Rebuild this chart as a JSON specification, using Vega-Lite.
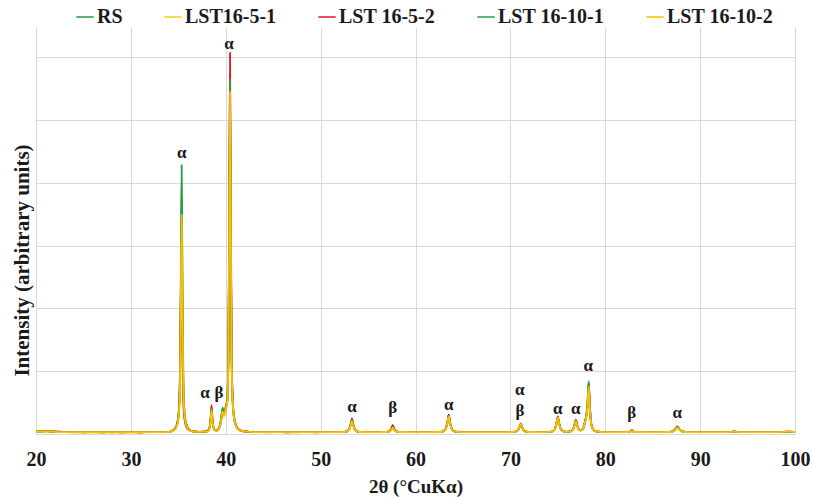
{
  "$schema": "https://vega.github.io/schema/vega-lite/v6.json",
  "width": 759,
  "height": 407,
  "autosize": {"type": "none"},
  "padding": {"left": 36, "top": 27, "right": 18, "bottom": 63},
  "background": "white",
  "config": {
    "view": {"stroke": null},
    "axis": {
      "labelFont": "'Liberation Serif', 'Times New Roman', serif",
      "labelFontWeight": "bold",
      "labelFontSize": 20,
      "labelColor": "#1a1a1a",
      "labelFlush": false,
      "titleFont": "'Liberation Serif', 'Times New Roman', serif",
      "titleFontWeight": "bold",
      "titleFontSize": 19,
      "titleColor": "#1a1a1a",
      "gridColor": "#d9d9d9",
      "gridWidth": 1,
      "domainColor": "#d9d9d9",
      "ticks": false
    }
  },
  "layer": [
    {
      "data": {
        "values": [
          {"x":20,"RS":0.05,"LST16-5-1":0.045,"LST 16-5-2":0.04,"LST 16-10-1":0.05,"LST 16-10-2":0.045},
          {"x":20.5,"RS":0.04,"LST16-5-1":0.05,"LST 16-5-2":0.045,"LST 16-10-1":0.04,"LST 16-10-2":0.04},
          {"x":21,"RS":0.045,"LST16-5-1":0.04,"LST 16-5-2":0.05,"LST 16-10-1":0.045,"LST 16-10-2":0.04},
          {"x":21.5,"RS":0.04,"LST16-5-1":0.045,"LST 16-5-2":0.04,"LST 16-10-1":0.05,"LST 16-10-2":0.04},
          {"x":22,"RS":0.035,"LST16-5-1":0.035,"LST 16-5-2":0.04,"LST 16-10-1":0.035,"LST 16-10-2":0.035},
          {"x":23,"RS":0.03,"LST16-5-1":0.03,"LST 16-5-2":0.032,"LST 16-10-1":0.03,"LST 16-10-2":0.03},
          {"x":24,"RS":0.03,"LST16-5-1":0.028,"LST 16-5-2":0.03,"LST 16-10-1":0.03,"LST 16-10-2":0.028},
          {"x":25,"RS":0.028,"LST16-5-1":0.03,"LST 16-5-2":0.03,"LST 16-10-1":0.028,"LST 16-10-2":0.028},
          {"x":26,"RS":0.03,"LST16-5-1":0.028,"LST 16-5-2":0.03,"LST 16-10-1":0.032,"LST 16-10-2":0.028},
          {"x":27,"RS":0.028,"LST16-5-1":0.028,"LST 16-5-2":0.03,"LST 16-10-1":0.028,"LST 16-10-2":0.028},
          {"x":28,"RS":0.03,"LST16-5-1":0.03,"LST 16-5-2":0.028,"LST 16-10-1":0.03,"LST 16-10-2":0.028},
          {"x":29,"RS":0.028,"LST16-5-1":0.028,"LST 16-5-2":0.03,"LST 16-10-1":0.028,"LST 16-10-2":0.028},
          {"x":30,"RS":0.03,"LST16-5-1":0.028,"LST 16-5-2":0.03,"LST 16-10-1":0.03,"LST 16-10-2":0.028},
          {"x":31,"RS":0.028,"LST16-5-1":0.03,"LST 16-5-2":0.028,"LST 16-10-1":0.028,"LST 16-10-2":0.028},
          {"x":32,"RS":0.03,"LST16-5-1":0.03,"LST 16-5-2":0.03,"LST 16-10-1":0.03,"LST 16-10-2":0.03},
          {"x":33,"RS":0.03,"LST16-5-1":0.03,"LST 16-5-2":0.032,"LST 16-10-1":0.03,"LST 16-10-2":0.03},
          {"x":34,"RS":0.035,"LST16-5-1":0.033,"LST 16-5-2":0.035,"LST 16-10-1":0.035,"LST 16-10-2":0.033},
          {"x":34.55,"RS":0.07,"LST16-5-1":0.06,"LST 16-5-2":0.07,"LST 16-10-1":0.07,"LST 16-10-2":0.06},
          {"x":34.85,"RS":0.16,"LST16-5-1":0.13,"LST 16-5-2":0.14,"LST 16-10-1":0.14,"LST 16-10-2":0.13},
          {"x":35.05,"RS":0.37,"LST16-5-1":0.28,"LST 16-5-2":0.35,"LST 16-10-1":0.33,"LST 16-10-2":0.31},
          {"x":35.17,"RS":0.88,"LST16-5-1":0.66,"LST 16-5-2":0.95,"LST 16-10-1":0.78,"LST 16-10-2":0.72},
          {"x":35.26,"RS":2.37,"LST16-5-1":1.77,"LST 16-5-2":2.2,"LST 16-10-1":2.1,"LST 16-10-2":1.93},
          {"x":35.35,"RS":4.28,"LST16-5-1":3.2,"LST 16-5-2":3.0,"LST 16-10-1":3.8,"LST 16-10-2":3.49},
          {"x":35.44,"RS":2.37,"LST16-5-1":1.77,"LST 16-5-2":1.3,"LST 16-10-1":2.1,"LST 16-10-2":1.93},
          {"x":35.53,"RS":0.88,"LST16-5-1":0.66,"LST 16-5-2":0.5,"LST 16-10-1":0.78,"LST 16-10-2":0.72},
          {"x":35.65,"RS":0.37,"LST16-5-1":0.28,"LST 16-5-2":0.24,"LST 16-10-1":0.33,"LST 16-10-2":0.31},
          {"x":35.85,"RS":0.16,"LST16-5-1":0.13,"LST 16-5-2":0.11,"LST 16-10-1":0.14,"LST 16-10-2":0.13},
          {"x":36.15,"RS":0.07,"LST16-5-1":0.06,"LST 16-5-2":0.06,"LST 16-10-1":0.07,"LST 16-10-2":0.06},
          {"x":36.6,"RS":0.04,"LST16-5-1":0.04,"LST 16-5-2":0.045,"LST 16-10-1":0.04,"LST 16-10-2":0.04},
          {"x":37.2,"RS":0.035,"LST16-5-1":0.035,"LST 16-5-2":0.035,"LST 16-10-1":0.035,"LST 16-10-2":0.035},
          {"x":37.9,"RS":0.037,"LST16-5-1":0.037,"LST 16-5-2":0.04,"LST 16-10-1":0.038,"LST 16-10-2":0.037},
          {"x":38.15,"RS":0.055,"LST16-5-1":0.053,"LST 16-5-2":0.06,"LST 16-10-1":0.056,"LST 16-10-2":0.055},
          {"x":38.3,"RS":0.1,"LST16-5-1":0.096,"LST 16-5-2":0.116,"LST 16-10-1":0.104,"LST 16-10-2":0.1},
          {"x":38.4,"RS":0.205,"LST16-5-1":0.195,"LST 16-5-2":0.245,"LST 16-10-1":0.215,"LST 16-10-2":0.205},
          {"x":38.5,"RS":0.38,"LST16-5-1":0.36,"LST 16-5-2":0.46,"LST 16-10-1":0.4,"LST 16-10-2":0.38},
          {"x":38.6,"RS":0.205,"LST16-5-1":0.195,"LST 16-5-2":0.245,"LST 16-10-1":0.215,"LST 16-10-2":0.205},
          {"x":38.7,"RS":0.1,"LST16-5-1":0.096,"LST 16-5-2":0.116,"LST 16-10-1":0.104,"LST 16-10-2":0.1},
          {"x":38.85,"RS":0.06,"LST16-5-1":0.058,"LST 16-5-2":0.065,"LST 16-10-1":0.06,"LST 16-10-2":0.06},
          {"x":39.05,"RS":0.055,"LST16-5-1":0.05,"LST 16-5-2":0.06,"LST 16-10-1":0.055,"LST 16-10-2":0.055},
          {"x":39.3,"RS":0.09,"LST16-5-1":0.08,"LST 16-5-2":0.1,"LST 16-10-1":0.09,"LST 16-10-2":0.09},
          {"x":39.5,"RS":0.2,"LST16-5-1":0.18,"LST 16-5-2":0.22,"LST 16-10-1":0.24,"LST 16-10-2":0.2},
          {"x":39.67,"RS":0.36,"LST16-5-1":0.33,"LST 16-5-2":0.38,"LST 16-10-1":0.42,"LST 16-10-2":0.36},
          {"x":39.82,"RS":0.3,"LST16-5-1":0.28,"LST 16-5-2":0.32,"LST 16-10-1":0.34,"LST 16-10-2":0.3},
          {"x":40.02,"RS":0.42,"LST16-5-1":0.4,"LST 16-5-2":0.45,"LST 16-10-1":0.44,"LST 16-10-2":0.42},
          {"x":40.15,"RS":0.5,"LST16-5-1":0.47,"LST 16-5-2":0.55,"LST 16-10-1":0.52,"LST 16-10-2":0.5},
          {"x":40.27,"RS":1.08,"LST16-5-1":1.02,"LST 16-5-2":1.24,"LST 16-10-1":1.15,"LST 16-10-2":1.11},
          {"x":40.36,"RS":2.93,"LST16-5-1":2.76,"LST 16-5-2":3.35,"LST 16-10-1":3.12,"LST 16-10-2":3.01},
          {"x":40.45,"RS":5.3,"LST16-5-1":5.0,"LST 16-5-2":6.07,"LST 16-10-1":5.64,"LST 16-10-2":5.45},
          {"x":40.54,"RS":2.93,"LST16-5-1":2.76,"LST 16-5-2":3.35,"LST 16-10-1":3.12,"LST 16-10-2":3.01},
          {"x":40.63,"RS":1.08,"LST16-5-1":1.02,"LST 16-5-2":1.24,"LST 16-10-1":1.15,"LST 16-10-2":1.11},
          {"x":40.75,"RS":0.45,"LST16-5-1":0.43,"LST 16-5-2":0.51,"LST 16-10-1":0.48,"LST 16-10-2":0.46},
          {"x":40.95,"RS":0.19,"LST16-5-1":0.18,"LST 16-5-2":0.21,"LST 16-10-1":0.2,"LST 16-10-2":0.19},
          {"x":41.25,"RS":0.08,"LST16-5-1":0.08,"LST 16-5-2":0.09,"LST 16-10-1":0.09,"LST 16-10-2":0.08},
          {"x":41.7,"RS":0.045,"LST16-5-1":0.045,"LST 16-5-2":0.05,"LST 16-10-1":0.045,"LST 16-10-2":0.045},
          {"x":42.5,"RS":0.035,"LST16-5-1":0.035,"LST 16-5-2":0.035,"LST 16-10-1":0.035,"LST 16-10-2":0.035},
          {"x":43.5,"RS":0.03,"LST16-5-1":0.03,"LST 16-5-2":0.032,"LST 16-10-1":0.03,"LST 16-10-2":0.03},
          {"x":44.5,"RS":0.03,"LST16-5-1":0.028,"LST 16-5-2":0.03,"LST 16-10-1":0.03,"LST 16-10-2":0.028},
          {"x":45.5,"RS":0.03,"LST16-5-1":0.03,"LST 16-5-2":0.03,"LST 16-10-1":0.032,"LST 16-10-2":0.03},
          {"x":46.5,"RS":0.028,"LST16-5-1":0.03,"LST 16-5-2":0.03,"LST 16-10-1":0.028,"LST 16-10-2":0.028},
          {"x":47.5,"RS":0.03,"LST16-5-1":0.028,"LST 16-5-2":0.032,"LST 16-10-1":0.03,"LST 16-10-2":0.028},
          {"x":48.5,"RS":0.03,"LST16-5-1":0.03,"LST 16-5-2":0.03,"LST 16-10-1":0.03,"LST 16-10-2":0.03},
          {"x":49.5,"RS":0.028,"LST16-5-1":0.03,"LST 16-5-2":0.03,"LST 16-10-1":0.03,"LST 16-10-2":0.028},
          {"x":50.5,"RS":0.03,"LST16-5-1":0.03,"LST 16-5-2":0.032,"LST 16-10-1":0.03,"LST 16-10-2":0.03},
          {"x":51.5,"RS":0.03,"LST16-5-1":0.03,"LST 16-5-2":0.03,"LST 16-10-1":0.03,"LST 16-10-2":0.03},
          {"x":52.5,"RS":0.032,"LST16-5-1":0.032,"LST 16-5-2":0.032,"LST 16-10-1":0.032,"LST 16-10-2":0.032},
          {"x":52.8,"RS":0.045,"LST16-5-1":0.044,"LST 16-5-2":0.048,"LST 16-10-1":0.046,"LST 16-10-2":0.044},
          {"x":53.0,"RS":0.072,"LST16-5-1":0.067,"LST 16-5-2":0.078,"LST 16-10-1":0.074,"LST 16-10-2":0.07},
          {"x":53.15,"RS":0.135,"LST16-5-1":0.124,"LST 16-5-2":0.151,"LST 16-10-1":0.14,"LST 16-10-2":0.129},
          {"x":53.3,"RS":0.22,"LST16-5-1":0.2,"LST 16-5-2":0.25,"LST 16-10-1":0.23,"LST 16-10-2":0.21},
          {"x":53.45,"RS":0.135,"LST16-5-1":0.124,"LST 16-5-2":0.151,"LST 16-10-1":0.14,"LST 16-10-2":0.129},
          {"x":53.6,"RS":0.072,"LST16-5-1":0.067,"LST 16-5-2":0.078,"LST 16-10-1":0.074,"LST 16-10-2":0.07},
          {"x":53.8,"RS":0.045,"LST16-5-1":0.044,"LST 16-5-2":0.048,"LST 16-10-1":0.046,"LST 16-10-2":0.044},
          {"x":54.1,"RS":0.032,"LST16-5-1":0.032,"LST 16-5-2":0.033,"LST 16-10-1":0.032,"LST 16-10-2":0.032},
          {"x":55,"RS":0.03,"LST16-5-1":0.03,"LST 16-5-2":0.03,"LST 16-10-1":0.03,"LST 16-10-2":0.03},
          {"x":56,"RS":0.03,"LST16-5-1":0.03,"LST 16-5-2":0.032,"LST 16-10-1":0.03,"LST 16-10-2":0.03},
          {"x":56.8,"RS":0.032,"LST16-5-1":0.032,"LST 16-5-2":0.033,"LST 16-10-1":0.032,"LST 16-10-2":0.032},
          {"x":57.1,"RS":0.036,"LST16-5-1":0.035,"LST 16-5-2":0.039,"LST 16-10-1":0.036,"LST 16-10-2":0.036},
          {"x":57.3,"RS":0.045,"LST16-5-1":0.043,"LST 16-5-2":0.054,"LST 16-10-1":0.048,"LST 16-10-2":0.045},
          {"x":57.45,"RS":0.068,"LST16-5-1":0.063,"LST 16-5-2":0.09,"LST 16-10-1":0.074,"LST 16-10-2":0.068},
          {"x":57.6,"RS":0.1,"LST16-5-1":0.09,"LST 16-5-2":0.14,"LST 16-10-1":0.11,"LST 16-10-2":0.1},
          {"x":57.75,"RS":0.068,"LST16-5-1":0.063,"LST 16-5-2":0.09,"LST 16-10-1":0.074,"LST 16-10-2":0.068},
          {"x":57.9,"RS":0.045,"LST16-5-1":0.043,"LST 16-5-2":0.054,"LST 16-10-1":0.048,"LST 16-10-2":0.045},
          {"x":58.1,"RS":0.036,"LST16-5-1":0.035,"LST 16-5-2":0.039,"LST 16-10-1":0.036,"LST 16-10-2":0.036},
          {"x":58.4,"RS":0.032,"LST16-5-1":0.032,"LST 16-5-2":0.033,"LST 16-10-1":0.032,"LST 16-10-2":0.032},
          {"x":59.5,"RS":0.03,"LST16-5-1":0.03,"LST 16-5-2":0.03,"LST 16-10-1":0.03,"LST 16-10-2":0.03},
          {"x":60.5,"RS":0.03,"LST16-5-1":0.03,"LST 16-5-2":0.032,"LST 16-10-1":0.03,"LST 16-10-2":0.03},
          {"x":61.5,"RS":0.03,"LST16-5-1":0.03,"LST 16-5-2":0.03,"LST 16-10-1":0.03,"LST 16-10-2":0.03},
          {"x":62.5,"RS":0.032,"LST16-5-1":0.032,"LST 16-5-2":0.032,"LST 16-10-1":0.032,"LST 16-10-2":0.032},
          {"x":62.7,"RS":0.035,"LST16-5-1":0.035,"LST 16-5-2":0.036,"LST 16-10-1":0.035,"LST 16-10-2":0.035},
          {"x":63.0,"RS":0.052,"LST16-5-1":0.049,"LST 16-5-2":0.052,"LST 16-10-1":0.051,"LST 16-10-2":0.05},
          {"x":63.2,"RS":0.09,"LST16-5-1":0.083,"LST 16-5-2":0.092,"LST 16-10-1":0.087,"LST 16-10-2":0.085},
          {"x":63.35,"RS":0.18,"LST16-5-1":0.16,"LST 16-5-2":0.18,"LST 16-10-1":0.17,"LST 16-10-2":0.17},
          {"x":63.5,"RS":0.3,"LST16-5-1":0.27,"LST 16-5-2":0.31,"LST 16-10-1":0.29,"LST 16-10-2":0.28},
          {"x":63.65,"RS":0.18,"LST16-5-1":0.16,"LST 16-5-2":0.18,"LST 16-10-1":0.17,"LST 16-10-2":0.17},
          {"x":63.8,"RS":0.09,"LST16-5-1":0.083,"LST 16-5-2":0.092,"LST 16-10-1":0.087,"LST 16-10-2":0.085},
          {"x":64.0,"RS":0.052,"LST16-5-1":0.049,"LST 16-5-2":0.052,"LST 16-10-1":0.051,"LST 16-10-2":0.05},
          {"x":64.3,"RS":0.035,"LST16-5-1":0.035,"LST 16-5-2":0.036,"LST 16-10-1":0.035,"LST 16-10-2":0.035},
          {"x":65.5,"RS":0.03,"LST16-5-1":0.03,"LST 16-5-2":0.03,"LST 16-10-1":0.03,"LST 16-10-2":0.03},
          {"x":66.5,"RS":0.03,"LST16-5-1":0.03,"LST 16-5-2":0.032,"LST 16-10-1":0.03,"LST 16-10-2":0.03},
          {"x":67.5,"RS":0.03,"LST16-5-1":0.03,"LST 16-5-2":0.03,"LST 16-10-1":0.03,"LST 16-10-2":0.03},
          {"x":68.5,"RS":0.03,"LST16-5-1":0.032,"LST 16-5-2":0.03,"LST 16-10-1":0.03,"LST 16-10-2":0.03},
          {"x":69.5,"RS":0.03,"LST16-5-1":0.03,"LST 16-5-2":0.03,"LST 16-10-1":0.03,"LST 16-10-2":0.03},
          {"x":70.3,"RS":0.032,"LST16-5-1":0.032,"LST 16-5-2":0.032,"LST 16-10-1":0.032,"LST 16-10-2":0.032},
          {"x":70.6,"RS":0.04,"LST16-5-1":0.04,"LST 16-5-2":0.041,"LST 16-10-1":0.04,"LST 16-10-2":0.04},
          {"x":70.8,"RS":0.059,"LST16-5-1":0.056,"LST 16-5-2":0.061,"LST 16-10-1":0.059,"LST 16-10-2":0.059},
          {"x":70.95,"RS":0.1,"LST16-5-1":0.096,"LST 16-5-2":0.107,"LST 16-10-1":0.1,"LST 16-10-2":0.1},
          {"x":71.1,"RS":0.16,"LST16-5-1":0.15,"LST 16-5-2":0.17,"LST 16-10-1":0.16,"LST 16-10-2":0.16},
          {"x":71.25,"RS":0.1,"LST16-5-1":0.096,"LST 16-5-2":0.107,"LST 16-10-1":0.1,"LST 16-10-2":0.1},
          {"x":71.4,"RS":0.059,"LST16-5-1":0.056,"LST 16-5-2":0.061,"LST 16-10-1":0.059,"LST 16-10-2":0.059},
          {"x":71.6,"RS":0.04,"LST16-5-1":0.04,"LST 16-5-2":0.041,"LST 16-10-1":0.04,"LST 16-10-2":0.04},
          {"x":71.9,"RS":0.032,"LST16-5-1":0.032,"LST 16-5-2":0.032,"LST 16-10-1":0.032,"LST 16-10-2":0.032},
          {"x":73,"RS":0.03,"LST16-5-1":0.03,"LST 16-5-2":0.03,"LST 16-10-1":0.03,"LST 16-10-2":0.03},
          {"x":74.2,"RS":0.033,"LST16-5-1":0.033,"LST 16-5-2":0.033,"LST 16-10-1":0.033,"LST 16-10-2":0.033},
          {"x":74.5,"RS":0.049,"LST16-5-1":0.048,"LST 16-5-2":0.05,"LST 16-10-1":0.049,"LST 16-10-2":0.048},
          {"x":74.7,"RS":0.083,"LST16-5-1":0.078,"LST 16-5-2":0.085,"LST 16-10-1":0.083,"LST 16-10-2":0.081},
          {"x":74.85,"RS":0.162,"LST16-5-1":0.151,"LST 16-5-2":0.168,"LST 16-10-1":0.162,"LST 16-10-2":0.157},
          {"x":75.0,"RS":0.27,"LST16-5-1":0.25,"LST 16-5-2":0.28,"LST 16-10-1":0.27,"LST 16-10-2":0.26},
          {"x":75.15,"RS":0.162,"LST16-5-1":0.151,"LST 16-5-2":0.168,"LST 16-10-1":0.162,"LST 16-10-2":0.157},
          {"x":75.3,"RS":0.083,"LST16-5-1":0.078,"LST 16-5-2":0.085,"LST 16-10-1":0.083,"LST 16-10-2":0.081},
          {"x":75.5,"RS":0.049,"LST16-5-1":0.048,"LST 16-5-2":0.05,"LST 16-10-1":0.049,"LST 16-10-2":0.048},
          {"x":75.9,"RS":0.035,"LST16-5-1":0.035,"LST 16-5-2":0.035,"LST 16-10-1":0.035,"LST 16-10-2":0.035},
          {"x":76.3,"RS":0.04,"LST16-5-1":0.04,"LST 16-5-2":0.04,"LST 16-10-1":0.04,"LST 16-10-2":0.04},
          {"x":76.6,"RS":0.072,"LST16-5-1":0.067,"LST 16-5-2":0.074,"LST 16-10-1":0.072,"LST 16-10-2":0.07},
          {"x":76.75,"RS":0.135,"LST16-5-1":0.124,"LST 16-5-2":0.14,"LST 16-10-1":0.135,"LST 16-10-2":0.129},
          {"x":76.9,"RS":0.22,"LST16-5-1":0.2,"LST 16-5-2":0.23,"LST 16-10-1":0.22,"LST 16-10-2":0.21},
          {"x":77.05,"RS":0.135,"LST16-5-1":0.124,"LST 16-5-2":0.14,"LST 16-10-1":0.135,"LST 16-10-2":0.129},
          {"x":77.2,"RS":0.075,"LST16-5-1":0.07,"LST 16-5-2":0.077,"LST 16-10-1":0.075,"LST 16-10-2":0.072},
          {"x":77.4,"RS":0.06,"LST16-5-1":0.058,"LST 16-5-2":0.06,"LST 16-10-1":0.06,"LST 16-10-2":0.058},
          {"x":77.6,"RS":0.07,"LST16-5-1":0.066,"LST 16-5-2":0.07,"LST 16-10-1":0.07,"LST 16-10-2":0.066},
          {"x":77.85,"RS":0.19,"LST16-5-1":0.17,"LST 16-5-2":0.18,"LST 16-10-1":0.19,"LST 16-10-2":0.18},
          {"x":78.0,"RS":0.3,"LST16-5-1":0.27,"LST 16-5-2":0.29,"LST 16-10-1":0.29,"LST 16-10-2":0.27},
          {"x":78.13,"RS":0.48,"LST16-5-1":0.43,"LST 16-5-2":0.45,"LST 16-10-1":0.46,"LST 16-10-2":0.43},
          {"x":78.25,"RS":0.84,"LST16-5-1":0.75,"LST 16-5-2":0.8,"LST 16-10-1":0.82,"LST 16-10-2":0.76},
          {"x":78.37,"RS":0.48,"LST16-5-1":0.43,"LST 16-5-2":0.45,"LST 16-10-1":0.46,"LST 16-10-2":0.43},
          {"x":78.5,"RS":0.19,"LST16-5-1":0.17,"LST 16-5-2":0.18,"LST 16-10-1":0.19,"LST 16-10-2":0.18},
          {"x":78.65,"RS":0.095,"LST16-5-1":0.088,"LST 16-5-2":0.092,"LST 16-10-1":0.093,"LST 16-10-2":0.088},
          {"x":78.95,"RS":0.045,"LST16-5-1":0.044,"LST 16-5-2":0.045,"LST 16-10-1":0.045,"LST 16-10-2":0.044},
          {"x":79.5,"RS":0.033,"LST16-5-1":0.033,"LST 16-5-2":0.033,"LST 16-10-1":0.033,"LST 16-10-2":0.033},
          {"x":80.5,"RS":0.03,"LST16-5-1":0.03,"LST 16-5-2":0.03,"LST 16-10-1":0.03,"LST 16-10-2":0.03},
          {"x":81.5,"RS":0.03,"LST16-5-1":0.03,"LST 16-5-2":0.03,"LST 16-10-1":0.03,"LST 16-10-2":0.03},
          {"x":82.4,"RS":0.032,"LST16-5-1":0.032,"LST 16-5-2":0.032,"LST 16-10-1":0.032,"LST 16-10-2":0.032},
          {"x":82.65,"RS":0.04,"LST16-5-1":0.038,"LST 16-5-2":0.045,"LST 16-10-1":0.04,"LST 16-10-2":0.038},
          {"x":82.8,"RS":0.05,"LST16-5-1":0.045,"LST 16-5-2":0.06,"LST 16-10-1":0.05,"LST 16-10-2":0.045},
          {"x":82.95,"RS":0.04,"LST16-5-1":0.038,"LST 16-5-2":0.045,"LST 16-10-1":0.04,"LST 16-10-2":0.038},
          {"x":83.2,"RS":0.032,"LST16-5-1":0.032,"LST 16-5-2":0.032,"LST 16-10-1":0.032,"LST 16-10-2":0.032},
          {"x":84.5,"RS":0.03,"LST16-5-1":0.03,"LST 16-5-2":0.03,"LST 16-10-1":0.03,"LST 16-10-2":0.03},
          {"x":85.5,"RS":0.03,"LST16-5-1":0.03,"LST 16-5-2":0.03,"LST 16-10-1":0.03,"LST 16-10-2":0.03},
          {"x":86.5,"RS":0.032,"LST16-5-1":0.032,"LST 16-5-2":0.032,"LST 16-10-1":0.032,"LST 16-10-2":0.032},
          {"x":87.0,"RS":0.036,"LST16-5-1":0.036,"LST 16-5-2":0.037,"LST 16-10-1":0.036,"LST 16-10-2":0.036},
          {"x":87.25,"RS":0.055,"LST16-5-1":0.052,"LST 16-5-2":0.058,"LST 16-10-1":0.055,"LST 16-10-2":0.052},
          {"x":87.45,"RS":0.085,"LST16-5-1":0.08,"LST 16-5-2":0.09,"LST 16-10-1":0.085,"LST 16-10-2":0.08},
          {"x":87.6,"RS":0.11,"LST16-5-1":0.1,"LST 16-5-2":0.12,"LST 16-10-1":0.11,"LST 16-10-2":0.1},
          {"x":87.75,"RS":0.085,"LST16-5-1":0.08,"LST 16-5-2":0.09,"LST 16-10-1":0.085,"LST 16-10-2":0.08},
          {"x":87.95,"RS":0.055,"LST16-5-1":0.052,"LST 16-5-2":0.058,"LST 16-10-1":0.055,"LST 16-10-2":0.052},
          {"x":88.2,"RS":0.036,"LST16-5-1":0.036,"LST 16-5-2":0.037,"LST 16-10-1":0.036,"LST 16-10-2":0.036},
          {"x":88.8,"RS":0.03,"LST16-5-1":0.03,"LST 16-5-2":0.03,"LST 16-10-1":0.03,"LST 16-10-2":0.03},
          {"x":90,"RS":0.03,"LST16-5-1":0.03,"LST 16-5-2":0.03,"LST 16-10-1":0.03,"LST 16-10-2":0.03},
          {"x":91.5,"RS":0.03,"LST16-5-1":0.03,"LST 16-5-2":0.03,"LST 16-10-1":0.03,"LST 16-10-2":0.03},
          {"x":93,"RS":0.03,"LST16-5-1":0.03,"LST 16-5-2":0.03,"LST 16-10-1":0.03,"LST 16-10-2":0.03},
          {"x":93.6,"RS":0.04,"LST16-5-1":0.038,"LST 16-5-2":0.036,"LST 16-10-1":0.04,"LST 16-10-2":0.036},
          {"x":94.2,"RS":0.03,"LST16-5-1":0.03,"LST 16-5-2":0.03,"LST 16-10-1":0.03,"LST 16-10-2":0.03},
          {"x":96,"RS":0.03,"LST16-5-1":0.03,"LST 16-5-2":0.03,"LST 16-10-1":0.03,"LST 16-10-2":0.03},
          {"x":98,"RS":0.03,"LST16-5-1":0.03,"LST 16-5-2":0.03,"LST 16-10-1":0.03,"LST 16-10-2":0.03},
          {"x":99.4,"RS":0.035,"LST16-5-1":0.035,"LST 16-5-2":0.04,"LST 16-10-1":0.035,"LST 16-10-2":0.04},
          {"x":100,"RS":0.03,"LST16-5-1":0.03,"LST 16-5-2":0.03,"LST 16-10-1":0.03,"LST 16-10-2":0.03}
        ]
      },
      "transform": [
        {"fold": ["RS", "LST16-5-1", "LST 16-5-2", "LST 16-10-1", "LST 16-10-2"], "as": ["series", "y"]}
      ],
      "mark": {"type": "line", "strokeWidth": 1.8, "interpolate": "monotone"},
      "encoding": {
        "x": {
          "field": "x", "type": "quantitative",
          "scale": {"domain": [20, 100], "nice": false},
          "axis": {"values": [20, 30, 40, 50, 60, 70, 80, 90, 100], "title": "2θ (°CuKα)", "labelPadding": 15, "titlePadding": 8, "grid": true}
        },
        "y": {
          "field": "y", "type": "quantitative",
          "scale": {"domain": [0, 6.48], "nice": false},
          "axis": {"values": [0, 1, 2, 3, 4, 5, 6], "labels": false, "title": "Intensity (arbitrary units)", "titleFontSize": 21, "titleY": 233, "titlePadding": 4, "grid": true}
        },
        "color": {
          "field": "series", "type": "nominal",
          "scale": {
            "domain": ["RS", "LST16-5-1", "LST 16-5-2", "LST 16-10-1", "LST 16-10-2"],
            "range": ["#1f9a3c", "#f0d400", "#e3121b", "#22a045", "#ffbe00"]
          },
          "legend": {
            "title": null,
            "orient": "none",
            "direction": "horizontal",
            "legendX": 39,
            "legendY": -20,
            "symbolType": "stroke",
            "symbolSize": 300,
            "symbolStrokeWidth": 1.5,
            "labelFont": "'Liberation Serif', 'Times New Roman', serif",
            "labelFontWeight": "bold",
            "labelFontSize": 20,
            "labelColor": "#1a1a1a",
            "labelOffset": 2,
            "columnPadding": 38,
            "labelLimit": 300
          }
        }
      }
    },
    {
      "data": {
        "values": [
          {"x": 35.35, "y": 4.47, "t": "α"},
          {"x": 40.35, "y": 6.21, "t": "α"},
          {"x": 37.8, "y": 0.65, "t": "α"},
          {"x": 39.28, "y": 0.65, "t": "β"},
          {"x": 53.3, "y": 0.43, "t": "α"},
          {"x": 57.6, "y": 0.41, "t": "β"},
          {"x": 63.5, "y": 0.46, "t": "α"},
          {"x": 71.0, "y": 0.70, "t": "α"},
          {"x": 71.0, "y": 0.37, "t": "β"},
          {"x": 75.0, "y": 0.40, "t": "α"},
          {"x": 76.9, "y": 0.40, "t": "α"},
          {"x": 78.2, "y": 1.08, "t": "α"},
          {"x": 82.8, "y": 0.33, "t": "β"},
          {"x": 87.6, "y": 0.33, "t": "α"}
        ]
      },
      "mark": {"type": "text", "font": "'Liberation Serif', 'Times New Roman', serif", "fontWeight": "bold", "fontSize": 17, "color": "#1a1a1a", "align": "center", "baseline": "middle"},
      "encoding": {
        "x": {"field": "x", "type": "quantitative"},
        "y": {"field": "y", "type": "quantitative"},
        "text": {"field": "t"}
      }
    }
  ]
}
